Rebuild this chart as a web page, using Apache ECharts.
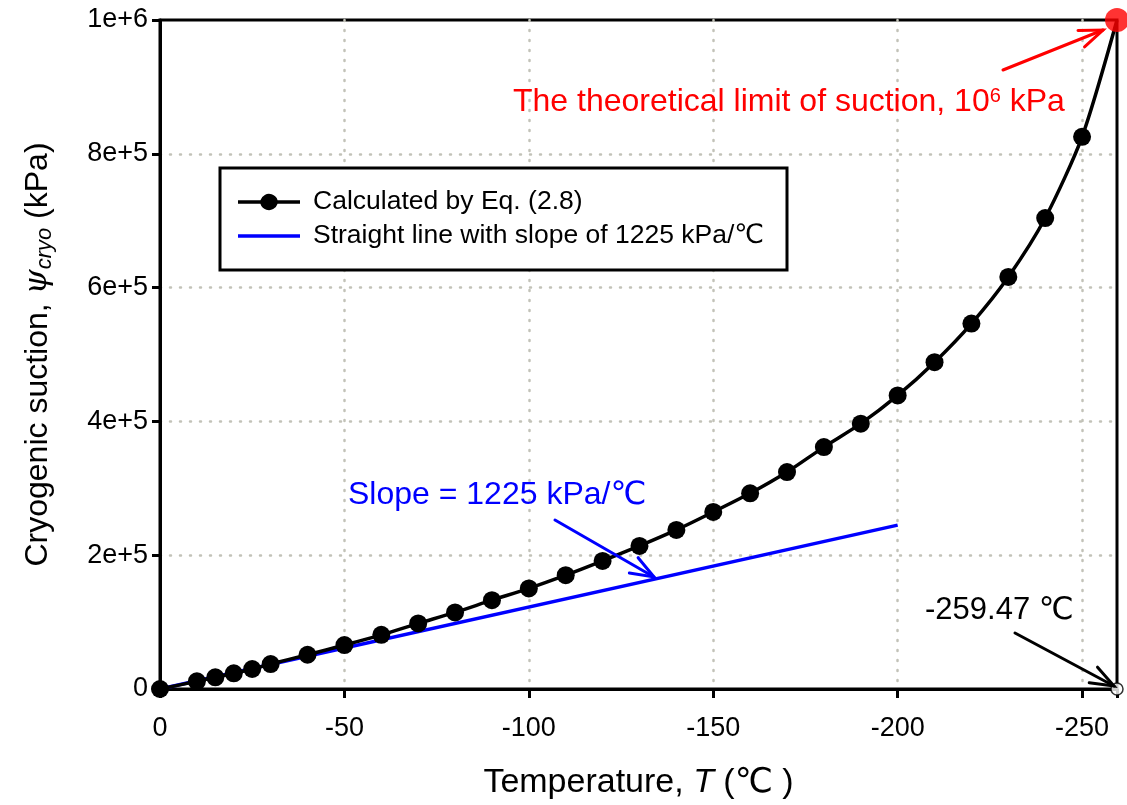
<!DOCTYPE html>
<html>
<head>
<meta charset="utf-8">
<script src="https://cdn.jsdelivr.net/npm/echarts@6/dist/echarts.min.js"></script>
<style>
html,body{margin:0;padding:0;background:#fff;}
#chart{width:1127px;height:805px;}
</style>
</head>
<body>
<div id="chart"></div>
<script>
// ---- data ----
const temps = [0, -10, -15, -20, -25, -30, -40, -50, -60, -70, -80, -90, -100, -110, -120, -130, -140, -150, -160, -170, -180, -190, -200, -210, -220, -230, -240, -250];
const suction = [0, 11500, 17500, 23400, 29900, 37300, 51200, 65700, 81000, 98000, 114500, 132800, 150300, 170100, 191500, 213900, 237800, 264600, 292500, 324300, 361600, 396600, 438800, 488500, 546300, 616000, 704000, 825400];
const limitT = -259.47;
const limitPsi = 1000000;
const slopeT = [0, -200];
const slopePsi = [0, 245000];

const FONT = "'Liberation Sans', Arial, 'DejaVu Sans', 'Noto Sans CJK SC', sans-serif";

const chart = echarts.init(document.getElementById('chart'), null, {renderer: 'canvas'});

const curveData = temps.map((t, i) => [t, suction[i]]);
curveData.push({value: [limitT, limitPsi], symbol: 'none'});

function arrow(x1, y1, x2, y2, color) {
  const ang = Math.atan2(y2 - y1, x2 - x1);
  const L = 25, a = 0.36;
  const hx1 = x2 - L * Math.cos(ang - a), hy1 = y2 - L * Math.sin(ang - a);
  const hx2 = x2 - L * Math.cos(ang + a), hy2 = y2 - L * Math.sin(ang + a);
  const st = {stroke: color, lineWidth: 3, lineCap: 'round'};
  return [
    {type: 'line', z: 10, shape: {x1, y1, x2, y2}, style: st},
    {type: 'polyline', z: 10, shape: {points: [[hx1, hy1], [x2, y2], [hx2, hy2]]}, style: Object.assign({fill: null}, st)}
  ];
}

// legend icons (62 x 18 box)
const iconLineDot = 'path://M0,7.2 L22.4,7.2 A9,9 0 0,1 39.6,7.2 L62,7.2 L62,10.8 L39.6,10.8 A9,9 0 0,1 22.4,10.8 L0,10.8 Z';
const iconLine = 'path://M0,7.2 L62,7.2 L62,10.8 L0,10.8 Z M0,0 L0,0 Z M0,18 L0,18 Z';

const gridLine = {show: true, showMinLine: false, showMaxLine: false,
  lineStyle: {color: '#c2c2b8', width: 2.5, type: [1, 9], cap: 'round'}};

const option = {
  animation: false,
  backgroundColor: '#fff',
  textStyle: {fontFamily: FONT},
  grid: {left: 160, right: 10, top: 20, bottom: 115, show: true, borderColor: '#000', borderWidth: 3, backgroundColor: 'transparent'},
  xAxis: {
    type: 'value', inverse: true, min: limitT, max: 0, splitNumber: 5,
    name: '{n|Temperature, }{it|T}{n| (℃ )}',
    nameLocation: 'middle', nameGap: 77,
    nameTextStyle: {rich: {
      n: {fontSize: 34, fontFamily: FONT, color: '#000'},
      it: {fontSize: 34, fontFamily: FONT, fontStyle: 'italic', color: '#000'}
    }},
    axisLine: {show: true, onZero: false, lineStyle: {color: '#000', width: 3}},
    axisTick: {show: true, inside: false, length: 9, lineStyle: {color: '#000', width: 3}},
    axisLabel: {fontSize: 27, color: '#000', fontFamily: FONT, margin: 26,
      formatter: v => (Math.abs(v % 50) < 1e-6 ? String(v) : '')},
    splitLine: gridLine
  },
  yAxis: {
    type: 'value', min: 0, max: 1000000, interval: 200000,
    name: '{n|Cryogenic suction, }{psi|ψ}{sub|cryo}{n| (kPa)}',
    nameLocation: 'middle', nameGap: 104, nameRotate: 90,
    nameTextStyle: {rich: {
      n: {fontSize: 32, fontFamily: FONT, color: '#000'},
      psi: {fontSize: 32, fontFamily: "'DejaVu Serif', serif", fontStyle: 'italic', color: '#000'},
      sub: {fontSize: 22, fontFamily: FONT, fontStyle: 'italic', color: '#000', verticalAlign: 'bottom', padding: [14, 0, 0, 0]}
    }},
    axisLine: {show: true, lineStyle: {color: '#000', width: 3}},
    axisTick: {show: true, inside: false, length: 8, lineStyle: {color: '#000', width: 3}},
    axisLabel: {fontSize: 27, color: '#000', fontFamily: FONT, margin: 12,
      formatter: v => (v === 0 ? '0' : v.toExponential(0))},
    splitLine: gridLine
  },
  legend: {
    orient: 'vertical', left: 220, top: 168, padding: [20, 20, 20, 18],
    itemWidth: 62, itemHeight: 18, itemGap: 6,
    textStyle: {fontSize: 26.5, color: '#000', fontFamily: FONT, lineHeight: 28, padding: [0, 0, 0, 8]},
    data: [
      {name: 'Calculated by Eq. (2.8)', icon: iconLineDot},
      {name: 'Straight line with slope of 1225 kPa/℃', icon: iconLine}
    ],
    z: 20
  },
  series: [
    {
      name: 'Straight line with slope of 1225 kPa/℃', type: 'line',
      data: slopeT.map((t, i) => [t, slopePsi[i]]),
      symbol: 'none', lineStyle: {color: '#0000ff', width: 3.5}, itemStyle: {color: '#0000ff'}, z: 2
    },
    {
      name: 'Calculated by Eq. (2.8)', type: 'line', data: curveData,
      smooth: 0.25, symbol: 'circle', symbolSize: 18,
      lineStyle: {color: '#000', width: 3.5}, itemStyle: {color: '#000'}, z: 3
    },
    {
      name: 'limit', type: 'scatter', data: [[limitT, limitPsi]],
      symbolSize: 24, itemStyle: {color: '#ff0000'}, z: 6
    },
    {
      name: 'zero', type: 'scatter', data: [[limitT, 0]],
      symbolSize: 12, itemStyle: {color: '#fff', borderColor: '#000', borderWidth: 1.5}, z: 6
    }
  ],
  graphic: [
    {type: 'rect', z: 15, shape: {x: 220, y: 168, width: 567, height: 102},
      style: {fill: '#fff', stroke: '#000', lineWidth: 3}},
    {type: 'text', z: 10, x: 513, y: 102, style: {
      text: '{a|The theoretical limit of suction, 10}{s|6}{a| kPa}',
      verticalAlign: 'middle', align: 'left',
      rich: {a: {fontSize: 32, fontFamily: FONT, fill: '#ff0000', color: '#ff0000'},
             s: {fontSize: 20, fontFamily: FONT, fill: '#ff0000', color: '#ff0000', verticalAlign: 'top'}}
    }},
    {type: 'text', z: 10, x: 348, y: 495, style: {
      text: 'Slope = 1225 kPa/℃', fontSize: 32, fontFamily: FONT, fill: '#0000ff',
      verticalAlign: 'middle', align: 'left'}},
    {type: 'text', z: 10, x: 925, y: 610, style: {
      text: '-259.47 ℃', fontSize: 31, fontFamily: FONT, fill: '#000',
      verticalAlign: 'middle', align: 'left'}},
    ...arrow(1003, 70, 1103, 30, '#ff0000'),
    ...arrow(555, 520, 654, 577, '#0000ff'),
    ...arrow(1015, 633, 1114, 686, '#000')
  ]
};

chart.setOption(option);
</script>
</body>
</html>
